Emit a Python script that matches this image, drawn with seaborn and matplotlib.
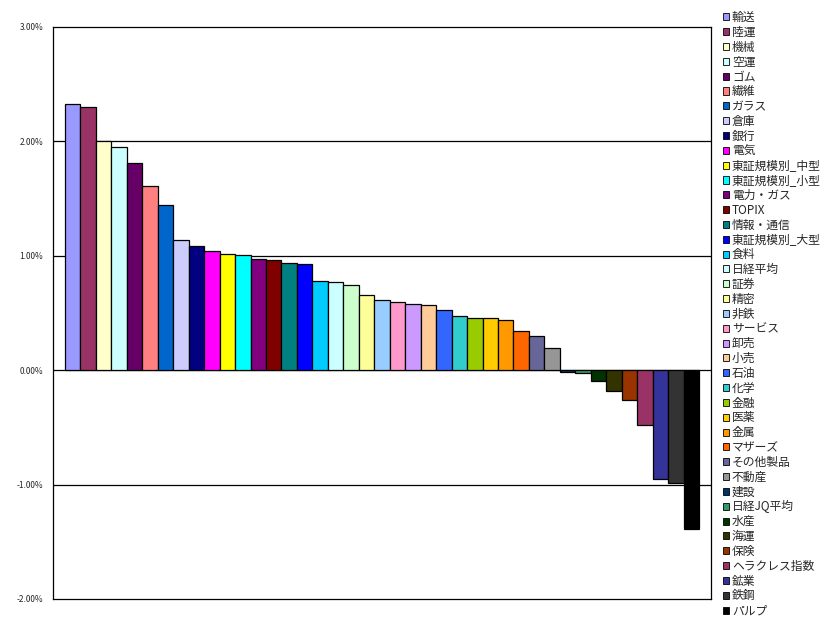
import matplotlib
matplotlib.use("Agg")
import matplotlib.pyplot as plt
import seaborn as sns
import pandas as pd
from matplotlib.patches import Patch
from matplotlib.ticker import FuncFormatter

# 業種別騰落率 (%)
names = ["輸送", "陸運", "機械", "空運", "ゴム", "繊維", "ガラス", "倉庫", "銀行", "電気",
         "東証規模別_中型", "東証規模別_小型", "電力・ガス", "TOPIX", "情報・通信", "東証規模別_大型",
         "食料", "日経平均", "証券", "精密", "非鉄", "サービス", "卸売", "小売", "石油", "化学",
         "金融", "医薬", "金属", "マザーズ", "その他製品", "不動産", "建設", "日経JQ平均", "水産",
         "海運", "保険", "ヘラクレス指数", "鉱業", "鉄鋼", "パルプ"]
values = [2.33, 2.30, 2.00, 1.955, 1.807, 1.611, 1.448, 1.142, 1.09, 1.046,
          1.02, 1.011, 0.976, 0.959, 0.933, 0.925,
          0.782, 0.773, 0.741, 0.654, 0.61, 0.60, 0.583, 0.566, 0.522, 0.47,
          0.452, 0.452, 0.443, 0.347, 0.303, 0.19, -0.012, -0.023, -0.095,
          -0.182, -0.258, -0.477, -0.953, -0.99, -1.39]
colors = ["#9999FF", "#993366", "#FFFFCC", "#CCFFFF", "#660066", "#FF8080", "#0066CC", "#CCCCFF",
          "#000080", "#FF00FF", "#FFFF00", "#00FFFF", "#800080", "#800000", "#008080", "#0000FF",
          "#00CCFF", "#CCFFFF", "#CCFFCC", "#FFFF99", "#99CCFF", "#FF99CC", "#CC99FF", "#FFCC99",
          "#3366FF", "#33CCCC", "#99CC00", "#FFCC00", "#FF9900", "#FF6600", "#666699", "#969696",
          "#003366", "#339966", "#003300", "#333300", "#993300", "#993366", "#333399", "#333333",
          "#000000"]

df = pd.DataFrame({"name": names, "value": values})

sns.set_theme(style="white")
plt.rcParams['font.family'] = ['Noto Sans CJK JP', 'DejaVu Sans']

fig = plt.figure(figsize=(8.34, 6.35), dpi=100)
ax = fig.add_axes([53/834, 1-599/635, (711-53)/834, (599-27)/635])

sns.barplot(data=df, x="name", y="value", hue="name", palette=colors, legend=False,
            width=1.0, edgecolor="black", linewidth=0.9, saturation=1, ax=ax)

ax.set_ylim(-2, 3)
ax.set_xlim(-1.27, len(names) - 1 + 1.27)
ax.set_yticks([-2, -1, 0, 1, 2, 3])
ax.yaxis.set_major_formatter(FuncFormatter(lambda v, p: "%.2f%%" % v))
ax.tick_params(axis="y", labelsize=6, length=0, pad=7)
ax.set_xticks([])
ax.set_xlabel("")
ax.set_ylabel("")
for y in [-1, 0, 1, 2]:
    ax.axhline(y, color="black", linewidth=0.9, zorder=0.5)
for s in ax.spines.values():
    s.set_color("black")
    s.set_linewidth(0.9)

handles = [Patch(facecolor=c, edgecolor="black", linewidth=0.6) for c in colors]
fig.legend(handles, names, loc="upper left", bbox_to_anchor=(723/834, 1-11/635),
           frameon=False, fontsize=8.5, handlelength=0.55, handleheight=0.55,
           handletextpad=0.2, labelspacing=0.155, borderaxespad=0, borderpad=0)

fig.savefig("out.png", dpi=100)
